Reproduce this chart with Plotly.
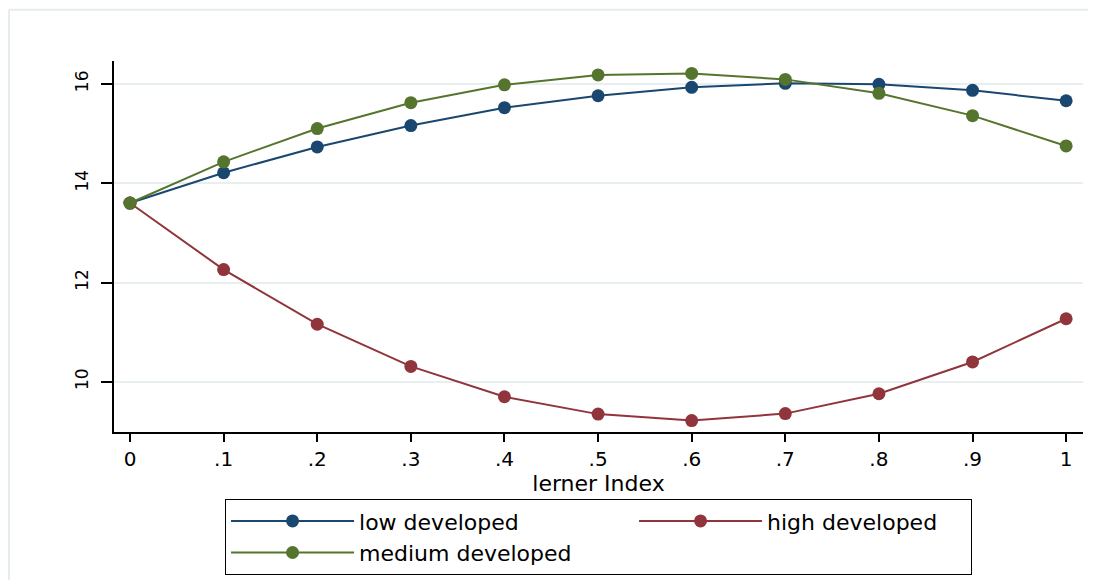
import plotly.graph_objects as go

lerner = [0, 0.1, 0.2, 0.3, 0.4, 0.5, 0.6, 0.7, 0.8, 0.9, 1.0]
tick_labels = ["0", ".1", ".2", ".3", ".4", ".5", ".6", ".7", ".8", ".9", "1"]
y_ticks = [10, 12, 14, 16]
low_dev = [13.60, 14.21, 14.73, 15.16, 15.52, 15.76, 15.93, 16.01, 15.99, 15.87, 15.66]
high_dev = [13.60, 12.26, 11.16, 10.31, 9.70, 9.35, 9.22, 9.36, 9.76, 10.40, 11.27]
medium_dev = [13.60, 14.43, 15.10, 15.62, 15.98, 16.18, 16.21, 16.09, 15.81, 15.36, 14.75]

NAVY = "#1a476f"
MAROON = "#90353b"
GREEN = "#55752f"

fig = go.Figure()
series = [
    ("low developed", low_dev, NAVY, 1, 270),
    ("high developed", high_dev, MAROON, 2, 199),
    ("medium developed", medium_dev, GREEN, 3, 270),
]
for name, vals, col, rank, lw in series:
    fig.add_trace(go.Scatter(
        x=lerner, y=vals, name=name, mode="lines+markers",
        line=dict(color=col, width=2),
        marker=dict(color=col, size=13),
        legendrank=rank,
        legendwidth=lw,
    ))

FONT = "DejaVu Sans, Liberation Sans, Arial, sans-serif"
fig.update_layout(
    width=1080, height=572,
    margin=dict(l=106, r=5, t=53, b=143),
    paper_bgcolor="white", plot_bgcolor="white",
    font=dict(family=FONT, size=20, color="black"),
    showlegend=True,
    legend=dict(
        orientation="h",
        x=0.1146, xanchor="left",
        y=-0.1809, yanchor="top",
        bordercolor="black", borderwidth=1,
        itemwidth=123,
        font=dict(size=22, family=FONT),
        tracegroupgap=0,
    ),
    xaxis=dict(
        range=[-0.0171, 1.018],
        tickvals=lerner, ticktext=tick_labels,
        showgrid=False, zeroline=False,
        showline=True, linecolor="black", linewidth=1.5,
        ticks="outside", ticklen=8, tickcolor="black", tickwidth=1.5,
        tickfont=dict(size=20, family=FONT),
        title=dict(text="lerner Index", font=dict(size=22, family=FONT), standoff=0),
    ),
    yaxis=dict(
        range=[8.99, 16.46],
        tickvals=y_ticks,
        tickangle=-90,
        showgrid=True, gridcolor="#e8eff1", gridwidth=1.5,
        zeroline=False,
        showline=True, linecolor="black", linewidth=1.5,
        ticks="outside", ticklen=11, tickcolor="black", tickwidth=1.5,
        tickfont=dict(size=17, family=FONT),
        ticklabelstandoff=6,
    ),
)

# faint outer frame (top and left edges visible in the reference)
fig.add_shape(type="line", xref="paper", yref="paper",
              x0=-0.1084, x1=1.03, y0=1.1383, y1=1.1383,
              line=dict(color="#e4ecee", width=2), layer="below")
fig.add_shape(type="line", xref="paper", yref="paper",
              x0=-0.1084, x1=-0.1084, y0=1.1383, y1=-0.40,
              line=dict(color="#e4ecee", width=2), layer="below")

fig.write_html("out.html")
